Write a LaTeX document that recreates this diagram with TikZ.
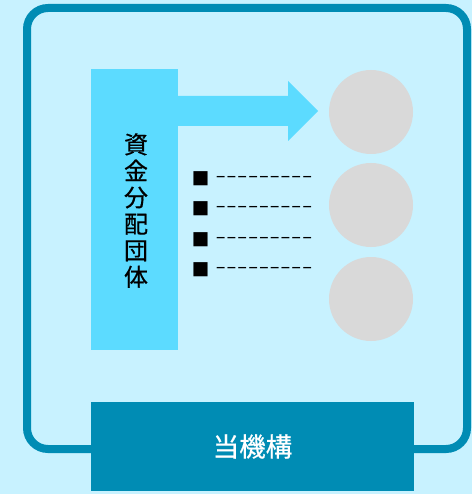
\documentclass[tikz,border=0pt]{standalone}
\usepackage{fontspec}
\newfontfamily\jp{Noto Sans CJK JP}[FakeBold=0.6]
\newfontfamily\dvs{DejaVu Sans}
\definecolor{bgcol}{HTML}{C8F2FF}
\definecolor{darkteal}{HTML}{008CB4}
\definecolor{skyblue}{HTML}{5CDBFF}
\definecolor{circgray}{HTML}{D9D9D9}
\tikzset{
  frame/.style={draw=darkteal, line width=8pt, rounded corners=21pt},
  orgbox/.style={fill=skyblue, draw=none, minimum width=87pt, minimum height=281pt, inner sep=0pt},
  agency/.style={fill=darkteal, draw=none, minimum width=323pt, minimum height=89pt, inner sep=0pt, text=white, font=\jp\fontsize{26.5}{30}\selectfont},
  recipient/.style={circle, fill=circgray, draw=none, minimum size=84pt, inner sep=0pt},
  vlabel/.style={align=center, inner sep=0pt, font=\jp\fontsize{24}{26.5}\selectfont},
  bulletmark/.style={inner sep=0pt, font=\dvs\fontsize{18.5}{18.5}\selectfont},
  dashline/.style={inner sep=0pt, anchor=west, xscale=1.87, font=\dvs\fontsize{16}{16}\selectfont},
}
\begin{document}
\begin{tikzpicture}[x=1pt,y=-1pt]
\useasboundingbox (0,0) rectangle (472,494);
\fill[bgcol] (0,0) rectangle (472,494);
\draw[frame] (27,8) rectangle (467,449);
\node[orgbox] (org) at (134.5,209.5) {};
\node[vlabel] (orglabel) at (136,210.5) {資\\金\\分\\配\\団\\体};
\fill[skyblue] (178,96) -- (288,96) -- (288,81) -- (318,111) -- (288,141) -- (288,126) -- (178,126) -- cycle;
\node[recipient] (r1) at (371,112) {};
\node[recipient] (r2) at (371,205) {};
\node[recipient] (r3) at (371,299) {};
\foreach \i/\yy in {1/178.5,2/209,3/239.5,4/270}{
  \node[bulletmark] (b\i) at (200.5,\yy) {■};
  \node[dashline] (d\i) at (215,\yy) {---------};
}
\node[agency] (agency) at (252.5,446.5) {当機構};
\end{tikzpicture}
\end{document}
